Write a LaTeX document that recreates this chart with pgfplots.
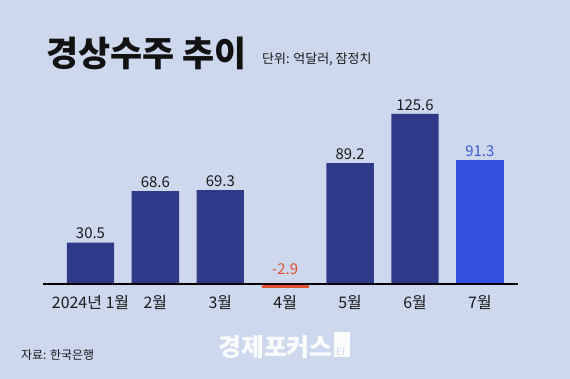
\documentclass[border=0pt]{standalone}
\usepackage{pgfplots}
\pgfplotsset{compat=1.18}
\usepackage{fontspec}
\setmainfont{Noto Sans CJK KR}
\definecolor{bg}{RGB}{205,216,239}
\definecolor{navy}{RGB}{46,58,135}
\definecolor{brightblue}{RGB}{49,80,221}
\definecolor{lblblue}{RGB}{58,91,217}
\definecolor{redbar}{RGB}{226,81,46}
\begin{document}
\begin{tikzpicture}
\path[fill=bg] (0,0) rectangle (570bp,379bp);
\node[anchor=west, inner sep=0, font=\fontsize{35}{38}\selectfont\bfseries, text=black!93] at (46bp,326bp) {경상수주 추이};
\node[anchor=west, inner sep=0, font=\fontsize{13}{15}\selectfont, text=black!90] at (262bp,320bp) {단위: 억달러, 잠정치};
\node[anchor=west, inner sep=0, font=\fontsize{12}{14}\selectfont, text=black!90] at (21bp,24bp) {자료: 한국은행};
\node[anchor=west, inner sep=0, font=\fontsize{25}{27}\selectfont\bfseries, text=white!92!bg] at (218bp,32bp) {경제포커스};
\fill[white!92!bg] (334bp,22bp) rectangle (350bp,47bp);
\node[anchor=south west, inner sep=0, font=\fontsize{10}{10}\selectfont, text=bg!90!white] at (336bp,23bp) {Ef};
\begin{axis}[
  at={(43bp,81.45bp)}, anchor=south west,
  scale only axis, width=475bp, height=203.25bp,
  xmin=-0.732, xmax=6.587, ymin=-10, ymax=140,
  axis line style={draw=none},
  ytick=\empty,
  xtick={0,1,2,3,4,5,6},
  xticklabels={2024년 1월,2월,3월,4월,5월,6월,7월},
  major tick length=0pt,
  xticklabel style={font=\fontsize{16}{18}\selectfont, text=black!90, yshift=6bp},
  /pgf/number format/assume math mode=true,
  /pgf/number format/fixed, /pgf/number format/precision=1,
  clip=false,
  bar width=0.73,
]
\addplot[ybar, bar shift=0pt, fill=navy, draw=none,
  nodes near coords, every node near coord/.append style={font=\fontsize{15}{17}\selectfont, text=black!90}]
  coordinates {(0,30.5) (1,68.6) (2,69.3) (4,89.2) (5,125.6)};
\addplot[ybar, bar shift=0pt, fill=brightblue, draw=none,
  nodes near coords, every node near coord/.append style={font=\fontsize{15}{17}\selectfont, text=lblblue}]
  coordinates {(6,91.3)};
\addplot[ybar, bar shift=0pt, fill=redbar, draw=none,
  nodes near coords, every node near coord/.append style={font=\fontsize{15}{17}\selectfont, text=redbar, anchor=south, yshift=10bp}]
  coordinates {(3,-2.9)};
\addplot[black, line width=2bp, forget plot] coordinates {(-0.732,0) (6.587,0)};
\end{axis}
\end{tikzpicture}
\end{document}
